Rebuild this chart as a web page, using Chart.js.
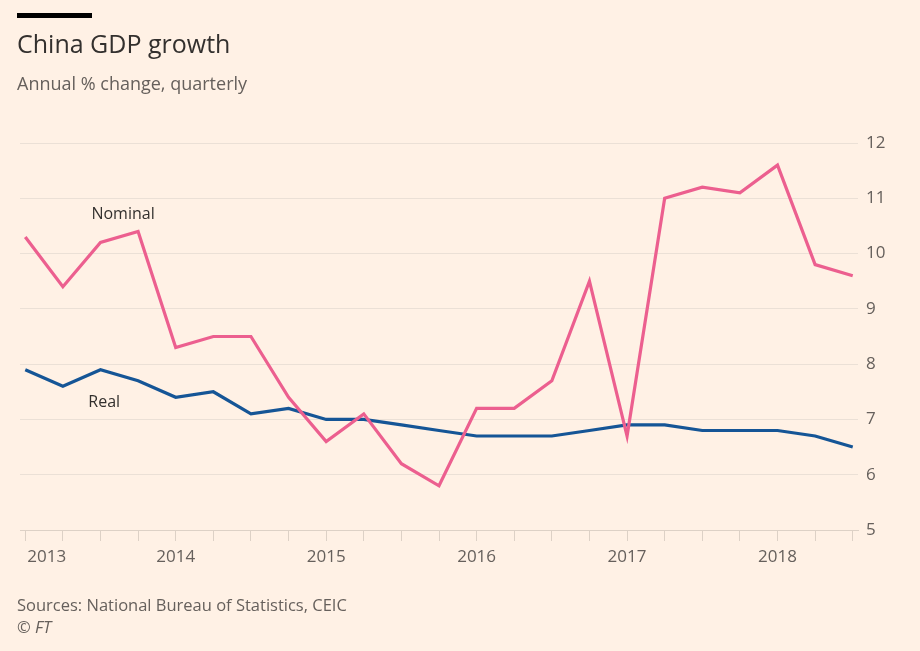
<!DOCTYPE html>
<html>
<head>
<meta charset="utf-8">
<script src="https://cdn.jsdelivr.net/npm/chart.js@4"></script>
<style>
  body { margin: 0; background: #fff1e5; font-family: "Open Sans", sans-serif; }
  #wrap { position: relative; width: 920px; height: 651px; overflow: hidden; }
  #wrap canvas { position: absolute; left: 0; top: 0; }
  .txt { position: absolute; left: 17px; line-height: 1; white-space: nowrap; }
  #bar { position: absolute; left: 17px; top: 13px; width: 75px; height: 5px; background: #000; }
  #title { top: 31px; font-size: 25px; color: #33302e; }
  #sub { top: 74px; font-size: 18px; color: #66605c; }
  #src { top: 597px; font-size: 16.5px; color: #66605c; }
  #ft { top: 619px; font-size: 16.5px; color: #66605c; font-style: italic; }
</style>
</head>
<body>
<div id="wrap">
  <canvas id="gdpChart" width="920" height="651"></canvas>
  <div id="bar"></div>
  <div class="txt" id="title">China GDP growth</div>
  <div class="txt" id="sub">Annual % change, quarterly</div>
  <div class="txt" id="src">Sources: National Bureau of Statistics, CEIC</div>
  <div class="txt" id="ft">© FT</div>
</div>
<script>
// quarters 2013 Q1 .. 2018 Q3
const quarters = ['2013 Q1', '2013 Q2', '2013 Q3', '2013 Q4',
  '2014 Q1', '2014 Q2', '2014 Q3', '2014 Q4',
  '2015 Q1', '2015 Q2', '2015 Q3', '2015 Q4',
  '2016 Q1', '2016 Q2', '2016 Q3', '2016 Q4',
  '2017 Q1', '2017 Q2', '2017 Q3', '2017 Q4',
  '2018 Q1', '2018 Q2', '2018 Q3'];
const nominal = [10.3, 9.4, 10.2, 10.4, 8.3, 8.5, 8.5, 7.4, 6.6, 7.1, 6.2, 5.8,
  7.2, 7.2, 7.7, 9.5, 6.7, 11.0, 11.2, 11.1, 11.6, 9.8, 9.6];
const real = [7.9, 7.6, 7.9, 7.7, 7.4, 7.5, 7.1, 7.2, 7.0, 7.0, 6.9, 6.8,
  6.7, 6.7, 6.7, 6.8, 6.9, 6.9, 6.8, 6.8, 6.8, 6.7, 6.5];
const yearLabels = ['2013', '2014', '2015', '2016', '2017', '2018'];
const yTicks = [5, 6, 7, 8, 9, 10, 11, 12];

const seriesLabels = [
  { text: 'Nominal', x: 2.6, y: 10.7 },
  { text: 'Real', x: 2.1, y: 7.3 }
];

// draw year labels under the axis and the line labels
const labelPlugin = {
  id: 'labels',
  afterDraw(chart) {
    const ctx = chart.ctx;
    const xs = chart.scales.x, ys = chart.scales.y;
    ctx.save();
    ctx.font = '17px "Open Sans"';
    ctx.fillStyle = '#66605c';
    ctx.textBaseline = 'middle';
    yearLabels.forEach((yr, i) => {
      const px = xs.getPixelForValue(i * 4);
      if (i === 0) {
        ctx.textAlign = 'left';
        ctx.fillText(yr, px + 2, xs.top + 27);
      } else {
        ctx.textAlign = 'center';
        ctx.fillText(yr, px, xs.top + 27);
      }
    });
    ctx.fillStyle = '#33302e';
    ctx.font = '16px "Open Sans"';
    ctx.textAlign = 'center';
    seriesLabels.forEach(l => {
      ctx.fillText(l.text, xs.getPixelForValue(l.x), ys.getPixelForValue(l.y));
    });
    ctx.restore();
  }
};

const ctx = document.getElementById('gdpChart').getContext('2d');
new Chart(ctx, {
  type: 'line',
  data: {
    datasets: [{
      label: 'Nominal',
      data: nominal.map((v, i) => ({ x: i, y: v })),
      borderColor: '#ec5f8f',
      borderWidth: 3.2
    }, {
      label: 'Real',
      data: real.map((v, i) => ({ x: i, y: v })),
      borderColor: '#155596',
      borderWidth: 3.2
    }]
  },
  options: {
    responsive: false,
    animation: false,
    events: [],
    layout: { padding: { left: 20, right: 0, top: 143, bottom: 81 } },
    elements: { point: { radius: 0 }, line: { tension: 0, borderJoinStyle: 'miter' } },
    plugins: { legend: { display: false }, tooltip: { enabled: false } },
    scales: {
      x: {
        type: 'linear',
        min: -0.14,
        max: 22.14,
        afterBuildTicks(scale) {
          scale.ticks = quarters.map((q, i) => ({ value: i }));
        },
        afterFit(scale) { scale.height = 40; },
        grid: { drawOnChartArea: false, drawTicks: true, tickLength: 11, color: '#ddd1c6' },
        border: { display: true, color: '#ddd1c6' },
        ticks: { display: false }
      },
      y: {
        position: 'right',
        min: 5,
        max: 12,
        afterBuildTicks(scale) {
          scale.ticks = yTicks.map(v => ({ value: v }));
        },
        afterFit(scale) { scale.width = 62; },
        grid: { color: '#ebe0d6', drawTicks: false },
        border: { display: false },
        ticks: {
          padding: 8,
          color: '#66605c',
          font: { family: 'Open Sans', size: 17 }
        }
      }
    }
  },
  plugins: [labelPlugin]
});
</script>
</body>
</html>
